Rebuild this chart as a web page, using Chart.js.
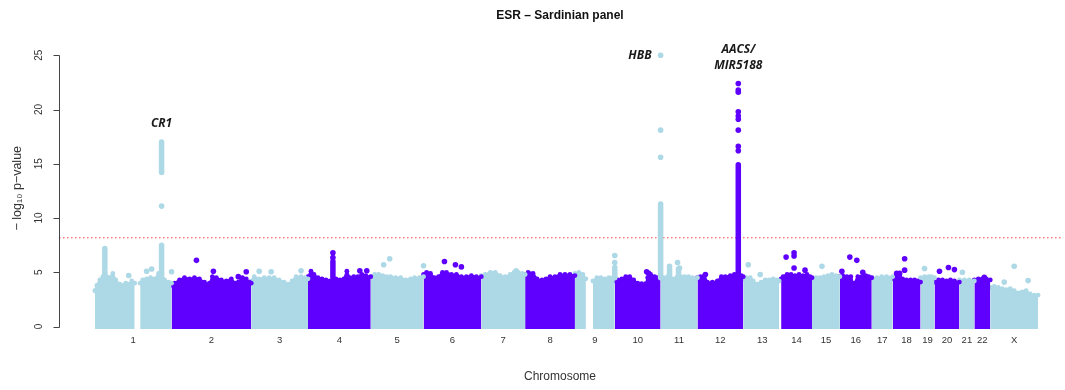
<!DOCTYPE html>
<html>
<head>
<meta charset="utf-8">
<script src="https://cdn.jsdelivr.net/npm/chart.js@4.4.1/dist/chart.umd.min.js"></script>
<style>html, body { margin: 0; padding: 0; background: #fff; }</style>
</head>
<body>
<canvas id="manhattan-chart" width="1065" height="390"></canvas>
<script>
// ---------------- data ----------------
var chromosomes = ['1','2','3','4','5','6','7','8','9','10','11','12','13','14','15','16','17','18','19','20','21','22','X'];
// plotted width of each chromosome (position units)
var chromLength = [77, 80, 57, 63, 53, 58, 44, 50, 40, 46, 37, 46, 38, 31, 28, 32, 21, 28, 14, 25, 15, 16, 48];

// upper edge of the dense cloud of SNPs, per chromosome: [position in chromosome, -log10 p]
var massTop = [
  [[0,3.3],[2,3.8],[5,4.3],[8,4.6],[10,5.0],[12,4.6],[15,4.5],[18,4.9],[21,4.3],[25,3.9],[28,3.8],[31,4.0],[34,3.9],[37,4.2],[40,4.0],[40.8,null],[45.5,4.0],[48,4.3],[52,4.4],[56,4.5],[60,4.4],[64,4.9],[67,5.0],[70,4.3],[74,4.1],[77,4.0]],
  [[0,3.8],[3,4.0],[8,4.3],[13,4.5],[18,4.4],[23,4.5],[28,4.4],[33,4.1],[38,4.0],[41,4.6],[45,4.5],[50,4.3],[55,4.2],[60,4.4],[64,4.0],[67,4.1],[71,4.5],[75,4.4],[78,4.1],[80,4.0]],
  [[0,4.2],[3,4.6],[8,4.4],[13,4.5],[18,4.5],[23,4.5],[28,4.3],[33,4.1],[37,3.9],[41,4.2],[45,4.6],[50,4.6],[54,4.5],[57,4.4]],
  [[0,4.6],[3,5.1],[6,4.8],[10,4.5],[14,4.4],[18,4.3],[22,4.2],[25,4.5],[28,4.4],[32,4.3],[36,4.4],[39,5.1],[42,4.5],[46,4.6],[50,4.6],[54,4.8],[58,4.7],[63,4.6]],
  [[0,4.6],[4,4.8],[8,4.8],[12,4.7],[16,4.6],[20,4.6],[25,4.5],[30,4.5],[35,4.3],[40,4.4],[44,4.5],[49,4.5],[53,4.6]],
  [[0,4.8],[3,5.0],[7,4.9],[11,4.5],[15,4.6],[19,5.0],[23,5.0],[28,4.8],[33,4.8],[38,4.6],[43,4.6],[48,4.7],[53,4.6],[58,4.6]],
  [[0,4.7],[4,4.8],[9,5.0],[14,5.0],[19,4.7],[24,4.6],[29,4.8],[33,5.0],[37,5.0],[41,4.9],[44,4.8]],
  [[0,4.8],[3,5.0],[8,4.9],[12,4.4],[17,4.3],[21,4.4],[25,4.6],[30,4.6],[35,4.8],[40,4.8],[45,4.8],[50,4.7]],
  [[0,4.9],[4,5.0],[8,4.8],[11,4.4],[12.5,null],[18,4.2],[22,4.5],[26,4.5],[30,4.4],[34,4.5],[38,4.5],[40,4.5]],
  [[0,4.2],[3,4.3],[7,4.4],[11,4.6],[15,4.6],[19,4.3],[23,4.0],[27,3.95],[31,3.95],[33,4.5],[36,4.8],[40,4.6],[43,4.5],[46,4.5]],
  [[0,4.5],[3,4.5],[7,4.6],[9,4.5],[12,4.4],[16,4.5],[20,4.6],[24,4.6],[28,4.6],[32,4.5],[37,4.5]],
  [[0,4.5],[3,4.6],[7,4.7],[10,4.1],[15,4.1],[20,4.2],[24,4.6],[28,4.6],[33,4.7],[37,4.8],[40,4.8],[44,4.7],[46,4.6]],
  [[0,4.4],[3,4.5],[7,4.5],[10,4.2],[14,3.9],[18,4.1],[22,4.3],[26,4.3],[30,4.4],[34,4.3],[36,4.2]],
  [[0,4.4],[2,4.6],[6,4.8],[10,4.8],[14,4.7],[18,4.8],[22,4.7],[26,4.8],[29,4.6],[31,4.5]],
  [[0,4.4],[4,4.5],[8,4.5],[12,4.6],[16,4.7],[20,4.8],[24,4.7],[28,4.6]],
  [[0,4.6],[3,4.7],[7,4.6],[11,4.6],[13,4.0],[14,3.4],[15,4.0],[18,4.6],[22,4.6],[26,4.7],[29,4.6],[32,4.5]],
  [[0,4.5],[5,4.5],[10,4.6],[15,4.6],[21,4.6]],
  [[0,4.4],[3,4.6],[7,4.7],[10,4.4],[14,4.3],[18,4.3],[22,4.3],[25,4.2],[28,4.1]],
  [[0,4.5],[4,4.6],[8,4.6],[11,4.6],[14,4.5]],
  [[0,4.1],[4,4.3],[8,4.3],[12,4.2],[16,4.3],[20,4.2],[25,4.1]],
  [[0,4.3],[5,4.3],[10,4.3],[15,4.2]],
  [[0,4.3],[4,4.4],[8,4.4],[12,4.4],[16,4.3]],
  [[0,3.6],[4,3.7],[8,3.6],[12,3.5],[16,3.4],[20,3.5],[24,3.3],[28,3.1],[32,3.2],[36,3.3],[40,3.0],[44,2.9],[48,2.9]]
];

// dense columns of SNPs (peaks)
var spikeChrom = ['1', '1', '1', '4', '9', '11', '11', '11', '12'];
var spikePos   = [10, 67, 67, 25, 40, 0, 9, 18, 41];
var spikeLow   = [4.5, 4.8, 14.2, 4.6, 4.5, 4.5, 4.5, 4.5, 4.8];
var spikeHigh  = [7.2, 7.5, 17.0, 6.0, 5.2, 11.3, 5.3, 5.3, 14.9];

// single SNPs standing out of the cloud
var hitChrom = ['1','1','1','1','1', '2','2','2','2', '3','3','3', '4','4','4','4', '5','5','5', '6','6','6', '7',
  '9','9','9', '10','10', '11','11','11','11','11','11',
  '12','12','12','12','12','12','12','12','12','12',
  '13','13', '14','14','14','14','14', '15', '16','16','16','16', '18','18','18','18', '19', '20','20','20', '21', '22', 'X','X','X'];
var hitPos = [34,52,57,67,77, 25,42,67,75, 8,20,50, 25,25,52,59, 13,19,53, 21,32,38, 35,
  40,40,40, 32,34, 0,0,0,9,17,19,
  8,41,41,41,41,41,41,41,41,41,
  5,17, 5,13,13,13,24, 10, 2,10,17,23, 4,7,12,12, 4, 5,14,20, 3, 10, 14,24,38];
var hitP = [4.7,5.1,5.3,11.1,5.05, 6.1,5.1,4.6,5.05, 5.1,5.05,5.15, 6.35,6.8,5.15,5.15, 5.7,6.25,5.6, 6.0,5.7,5.5, 5.15,
  5.45,5.9,6.55, 5.05,4.9, 15.6,18.1,25.0,5.55,5.9,5.4,
  4.8,16.2,16.6,18.1,19.1,19.4,19.8,21.6,21.8,22.4,
  5.7,4.8, 6.4,6.8,6.5,5.4,5.2, 5.55, 5.1,6.4,6.1,5.0, 4.9,4.9,6.25,5.2, 5.35, 5.1,5.45,5.25, 5.0, 4.55, 4.1,5.55,4.25];

// annotated loci: label, chromosome, position, top -log10 p
var geneLabel = ['CR1', 'HBB', 'AACS/\nMIR5188'];
var geneChrom = ['1', '11', '12'];
var genePos   = [67, 0, 41];
var geneTop   = [17.0, 25.0, 22.4];

var yTicks = [0, 5, 10, 15, 20, 25];
var significance = 8.18;

// ---------------- helpers ----------------
var lightBlue = '#add8e6';
var purple = '#5f00ff';
var chromStart = [];
var acc = 0;
chromLength.forEach(function (len) { chromStart.push(acc); acc += len; });
var xMin = -36, xMax = 970;

function chromIndex(name) { return chromosomes.indexOf(name); }
function chromColor(i) { return i % 2 === 0 ? lightBlue : purple; }
function globalPos(name, pos) { return chromStart[chromIndex(name)] + pos; }

// ---------------- datasets ----------------
var datasets = [];

datasets.push({
  type: 'line',
  data: [{ x: xMin, y: significance }, { x: xMax, y: significance }],
  borderColor: 'rgba(255, 40, 40, 0.9)',
  borderWidth: 1,
  borderDash: [1.5, 2.5],
  pointRadius: 0,
  fill: false,
  order: 4
});

massTop.forEach(function (pts, i) {
  datasets.push({
    type: 'line',
    data: pts.map(function (p) { return { x: chromStart[i] + p[0], y: p[1] }; }),
    borderColor: chromColor(i),
    backgroundColor: chromColor(i),
    borderWidth: 2,
    borderJoinStyle: 'round',
    pointRadius: 2.4,
    pointBorderWidth: 0,
    pointBackgroundColor: chromColor(i),
    tension: 0.2,
    spanGaps: false,
    fill: { value: -0.22 },
    order: 3
  });
});

spikeChrom.forEach(function (c, i) {
  var x = globalPos(c, spikePos[i]);
  datasets.push({
    type: 'line',
    data: [{ x: x, y: spikeLow[i] }, { x: x, y: spikeHigh[i] }],
    borderColor: chromColor(chromIndex(c)),
    borderWidth: 5.5,
    borderCapStyle: 'round',
    pointRadius: 0,
    fill: false,
    order: 2
  });
});

[0, 1].forEach(function (parity) {
  var pts = [];
  hitChrom.forEach(function (c, i) {
    if (chromIndex(c) % 2 === parity) pts.push({ x: globalPos(c, hitPos[i]), y: hitP[i] });
  });
  datasets.push({
    type: 'scatter',
    data: pts,
    backgroundColor: parity === 0 ? lightBlue : purple,
    borderWidth: 0,
    pointRadius: 2.8,
    order: 1
  });
});

// R-style left axis and gene labels
var rStylePlugin = {
  id: 'rStyle',
  afterDraw: function (chart) {
    var ctx = chart.ctx, x = chart.scales.x, y = chart.scales.y;
    var axisX = Math.round(y.right) + 0.5;
    ctx.save();
    ctx.strokeStyle = '#444';
    ctx.lineWidth = 1;
    ctx.beginPath();
    ctx.moveTo(axisX, Math.round(y.getPixelForValue(yTicks[0])) + 0.5);
    ctx.lineTo(axisX, Math.round(y.getPixelForValue(yTicks[yTicks.length - 1])) + 0.5);
    yTicks.forEach(function (v) {
      var py = Math.round(y.getPixelForValue(v)) + 0.5;
      ctx.moveTo(axisX - 6, py);
      ctx.lineTo(axisX, py);
    });
    ctx.stroke();

    ctx.fillStyle = '#333';
    ctx.font = '10px "Liberation Sans", Arial, sans-serif';
    ctx.textAlign = 'center';
    ctx.textBaseline = 'middle';
    yTicks.forEach(function (v) {
      ctx.save();
      ctx.translate(axisX - 20, y.getPixelForValue(v));
      ctx.rotate(-Math.PI / 2);
      ctx.fillText(String(v), 0, 0);
      ctx.restore();
    });

    ctx.fillStyle = '#1a1a1a';
    ctx.font = 'italic bold 12px "Open Sans", sans-serif';
    geneLabel.forEach(function (label, i) {
      var px = x.getPixelForValue(globalPos(geneChrom[i], genePos[i]));
      var py = y.getPixelForValue(geneTop[i]);
      var lines = label.split('\n');
      if (i === 1) {
        ctx.textAlign = 'right';
        ctx.fillText(lines[0], px - 9, py);
      } else {
        ctx.textAlign = 'center';
        lines.forEach(function (line, k) {
          ctx.fillText(line, px, py - 18 - (lines.length - 1 - k) * 16);
        });
      }
    });
    ctx.restore();
  }
};

Chart.defaults.font.family = '"Liberation Sans", Arial, sans-serif';
Chart.defaults.color = '#333';

new Chart(document.getElementById('manhattan-chart'), {
  type: 'scatter',
  data: { datasets: datasets },
  options: {
    responsive: false,
    animation: false,
    layout: { padding: 0 },
    plugins: {
      legend: { display: false },
      tooltip: { enabled: false },
      title: {
        display: true,
        fullSize: false,
        text: 'ESR \u2013 Sardinian panel',
        color: '#111',
        font: { size: 12, weight: 'bold' },
        padding: { top: 8, bottom: 22 }
      }
    },
    scales: {
      x: {
        type: 'linear',
        min: xMin,
        max: xMax,
        grid: { display: false, drawTicks: false },
        border: { display: false },
        afterBuildTicks: function (scale) {
          scale.ticks = chromosomes.map(function (c, i) { return { value: chromStart[i] + chromLength[i] / 2 }; });
        },
        ticks: {
          autoSkip: false,
          maxRotation: 0,
          minRotation: 0,
          padding: 3,
          color: '#333',
          font: { size: 9.5 },
          callback: function (value, index) { return chromosomes[index]; }
        },
        title: {
          display: true,
          text: 'Chromosome',
          color: '#333',
          font: { size: 12 },
          padding: { top: 0, bottom: 6 }
        },
        afterFit: function (scale) { scale.height = 58; }
      },
      y: {
        type: 'linear',
        min: -0.5,
        max: 26,
        grid: { display: false },
        border: { display: false },
        ticks: { display: false },
        title: {
          display: true,
          text: '\u2212 log\u2081\u2080 p\u2212value',
          color: '#333',
          font: { size: 12.5 },
          padding: { top: 10, bottom: 0 }
        },
        afterFit: function (scale) { scale.width = 59; }
      }
    }
  },
  plugins: [rStylePlugin]
});
</script>
</body>
</html>
